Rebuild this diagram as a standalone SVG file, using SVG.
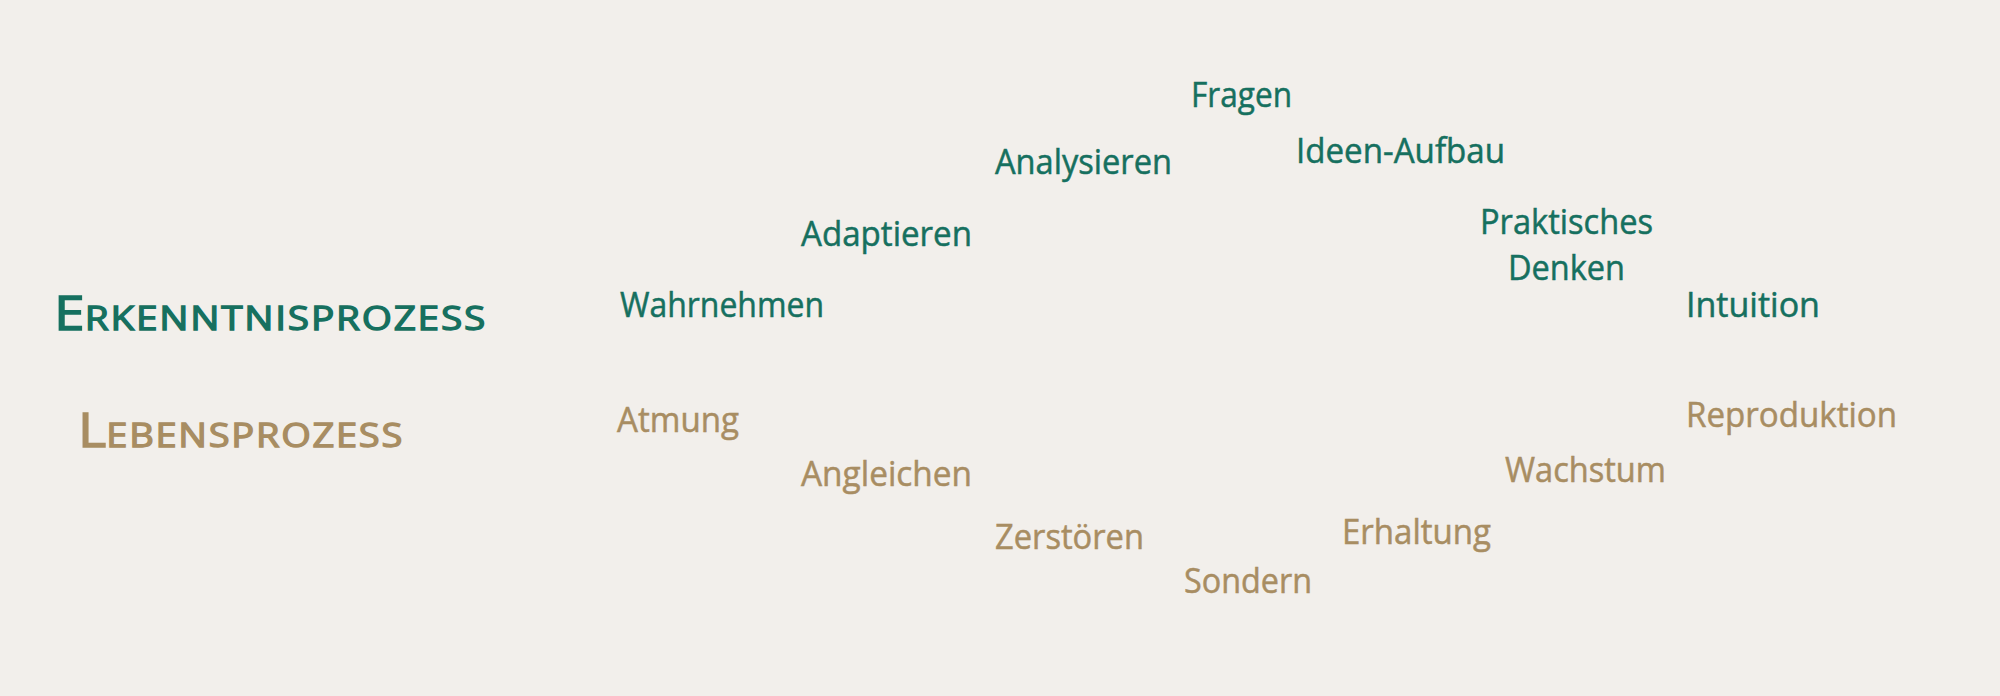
<svg xmlns="http://www.w3.org/2000/svg" width="2000" height="696" viewBox="0 0 2000 696">
<style>
.t{font-family:"Open Sans","Noto Sans",sans-serif;font-size:34px;font-weight:500;stroke-width:0.5}
.g{fill:#16705f;stroke:#16705f}
.b{fill:#a88d62;stroke:#a88d62}
.h{font-family:"Open Sans","Noto Sans",sans-serif;font-weight:500;stroke-width:1.3}
</style>
<rect width="2000" height="696" fill="#f2efeb"/>
<g id="erkenntnisprozess"><text class="h g" x="54" y="330" textLength="433" lengthAdjust="spacingAndGlyphs"><tspan font-size="47">E</tspan><tspan font-size="33" letter-spacing="1.5">RKENNTNISPROZESS</tspan></text></g>
<g id="lebensprozess"><text class="h b" x="78" y="447" textLength="326" lengthAdjust="spacingAndGlyphs"><tspan font-size="47">L</tspan><tspan font-size="33" letter-spacing="1.5">EBENSPROZESS</tspan></text></g>
<g id="fragen"><text class="t g" x="1191" y="107" textLength="101" lengthAdjust="spacingAndGlyphs">Fragen</text></g>
<g id="analysieren"><text class="t g" x="995" y="174" textLength="177" lengthAdjust="spacingAndGlyphs">Analysieren</text></g>
<g id="ideen-aufbau"><text class="t g" x="1296" y="163" textLength="209" lengthAdjust="spacingAndGlyphs">Ideen-Aufbau</text></g>
<g id="adaptieren"><text class="t g" x="801" y="246" textLength="171" lengthAdjust="spacingAndGlyphs">Adaptieren</text></g>
<g id="praktisches-denken"><text class="t g" x="1480" y="234" textLength="173" lengthAdjust="spacingAndGlyphs">Praktisches</text><text class="t g" x="1508" y="280" textLength="117" lengthAdjust="spacingAndGlyphs">Denken</text></g>
<g id="wahrnehmen"><text class="t g" x="620" y="317" textLength="204" lengthAdjust="spacingAndGlyphs">Wahrnehmen</text></g>
<g id="intuition"><text class="t g" x="1686" y="317" textLength="134" lengthAdjust="spacingAndGlyphs">Intuition</text></g>
<g id="atmung"><text class="t b" x="617" y="432" textLength="122" lengthAdjust="spacingAndGlyphs">Atmung</text></g>
<g id="reproduktion"><text class="t b" x="1686" y="427" textLength="211" lengthAdjust="spacingAndGlyphs">Reproduktion</text></g>
<g id="angleichen"><text class="t b" x="801" y="486" textLength="171" lengthAdjust="spacingAndGlyphs">Angleichen</text></g>
<g id="wachstum"><text class="t b" x="1505" y="482" textLength="161" lengthAdjust="spacingAndGlyphs">Wachstum</text></g>
<g id="zerstoeren"><text class="t b" x="995" y="549" textLength="149" lengthAdjust="spacingAndGlyphs">Zerstören</text></g>
<g id="erhaltung"><text class="t b" x="1342" y="544" textLength="149" lengthAdjust="spacingAndGlyphs">Erhaltung</text></g>
<g id="sondern"><text class="t b" x="1184" y="593" textLength="128" lengthAdjust="spacingAndGlyphs">Sondern</text></g>
<g id="connectors"/>
</svg>
